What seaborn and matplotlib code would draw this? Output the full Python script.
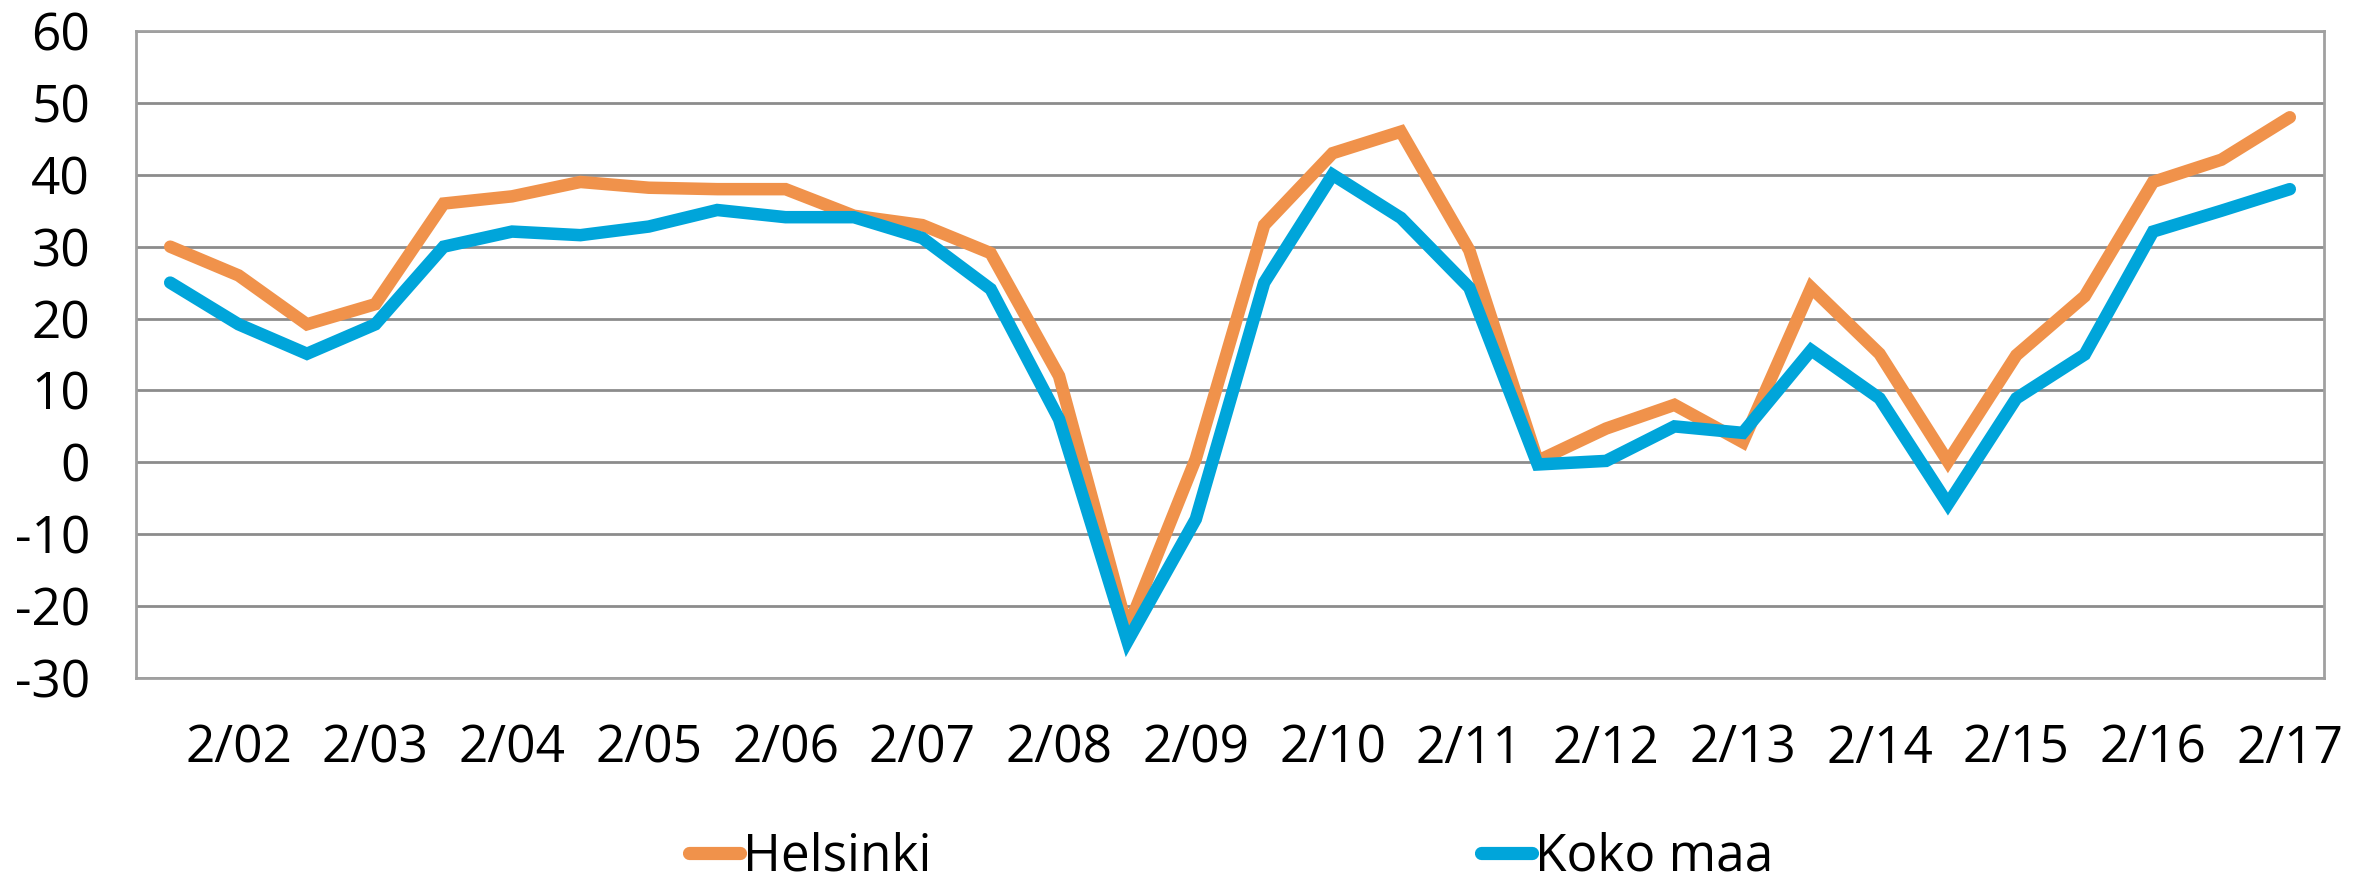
import matplotlib
matplotlib.use("Agg")
import matplotlib.pyplot as plt
import seaborn as sns
import pandas as pd

# Half-year periods 1/02 ... 2/17
periods = [f"{h}/{y:02d}" for y in range(2, 18) for h in (1, 2)]
tick_labels = ["2/02", "2/03", "2/04", "2/05", "2/06", "2/07", "2/08", "2/09",
               "2/10", "2/11", "2/12", "2/13", "2/14", "2/15", "2/16", "2/17"]

helsinki = [30.0, 26.0, 19.2, 22.0, 36.0, 37.0, 39.0, 38.2, 38.0, 38.0, 34.3, 33.0,
            29.1, 12.0, -23.2, 0.5, 33.0, 43.0, 46.0, 29.5, 0.2, 4.7, 8.0, 2.8,
            24.3, 15.1, 0.1, 14.9, 23.1, 39.0, 42.1, 48.0]
koko_maa = [25.0, 19.2, 15.1, 19.2, 30.0, 32.1, 31.6, 32.8, 35.1, 34.1, 34.1, 31.2,
            24.1, 6.0, -24.9, -7.9, 25.0, 40.0, 34.0, 24.3, -0.3, 0.2, 5.0, 4.1,
            15.6, 8.9, -5.8, 8.9, 15.0, 32.1, 35.0, 38.0]

series_names = ["Helsinki", "Koko maa"]
colors = ["#F0924B", "#00A5DA"]
y_ticks = [-30, -20, -10, 0, 10, 20, 30, 40, 50, 60]

df = pd.DataFrame({
    "period": periods * 2,
    "value": helsinki + koko_maa,
    "series": [series_names[0]] * len(periods) + [series_names[1]] * len(periods),
})

sns.set_style("white")
plt.rcParams["font.family"] = ["Open Sans", "DejaVu Sans"]
plt.rcParams["axes.unicode_minus"] = False
plt.rcParams["text.color"] = "black"
plt.rcParams["xtick.color"] = "black"
plt.rcParams["ytick.color"] = "black"

fig = plt.figure(figsize=(23.74, 8.83), dpi=100)
ax = fig.add_axes([136 / 2374, 1 - 678 / 883, (2324 - 136) / 2374, (678 - 31) / 883])

sns.lineplot(data=df, x="period", y="value", hue="series", palette=colors,
             linewidth=9, sort=False, ax=ax)
for ln in ax.get_lines():
    ln.set_solid_capstyle("round")
    ln.set_solid_joinstyle("miter")

ax.set_xlim(-0.5, len(periods) - 0.5)
ax.set_ylim(-30, 60)
ax.set_yticks(y_ticks)
ax.set_yticklabels([str(v) for v in y_ticks], fontsize=37)
ax.set_xticks(range(1, len(periods), 2))
ax.set_xticklabels(tick_labels, fontsize=37)
ax.tick_params(axis="y", length=0, pad=33, labelcolor="black")
ax.tick_params(axis="x", length=0, pad=33, labelcolor="black")
ax.set_xlabel("")
ax.set_ylabel("")

ax.grid(axis="y", color="#8C8C8C", linewidth=2)
ax.set_axisbelow(True)
for side in ["left", "right", "top", "bottom"]:
    ax.spines[side].set_visible(True)
    ax.spines[side].set_color("#A0A0A0")
    ax.spines[side].set_linewidth(2)

handles, labels = ax.get_legend_handles_labels()
ax.get_legend().remove()
leg = fig.legend(handles, labels, loc="center", bbox_to_anchor=(1231 / 2374, 1 - 857 / 883),
                 ncol=2, frameon=False, fontsize=37, handlelength=1.0,
                 handletextpad=0.05, columnspacing=10.7, borderpad=0)
for h in leg.legend_handles:
    h.set_linewidth(9.5)
    h.set_solid_capstyle("round")
for t in leg.get_texts():
    t.set_color("black")

fig.savefig("out.png", dpi=100)
